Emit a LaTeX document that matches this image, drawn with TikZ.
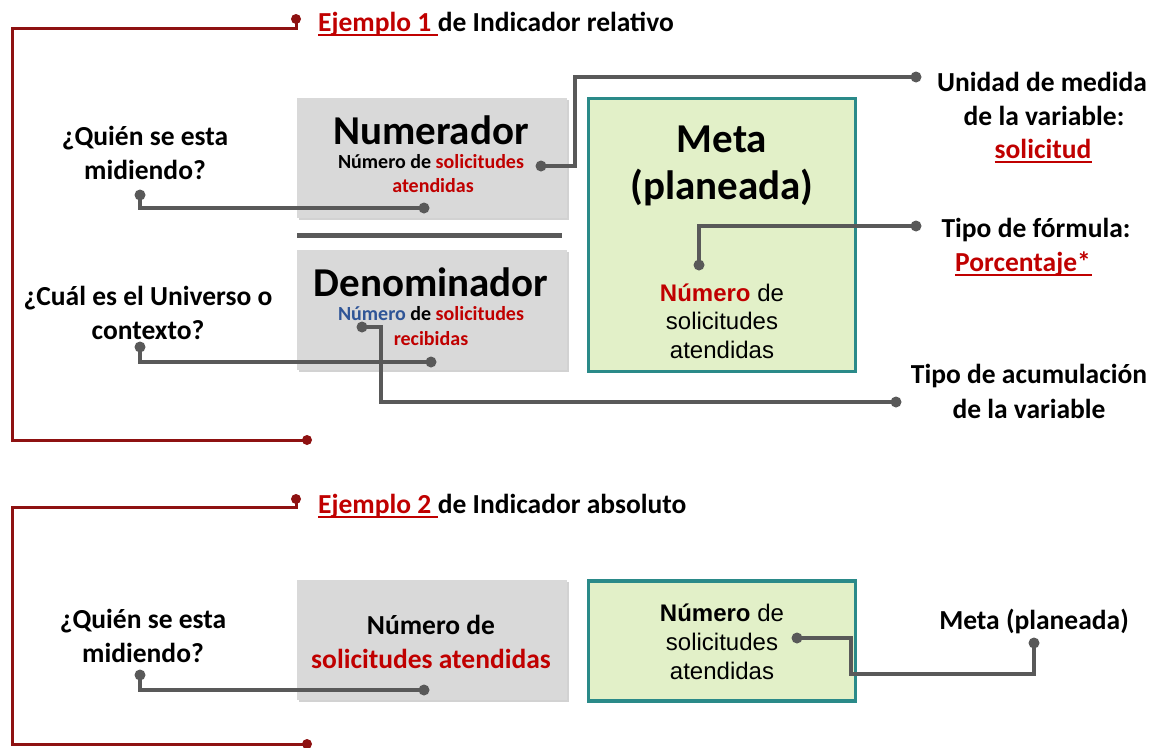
\documentclass[tikz,border=0pt]{standalone}
\usepackage{fontspec}
\setmainfont{Carlito}
\newfontfamily\arialf{Liberation Sans}
\usetikzlibrary{shadows}
\definecolor{ered}{HTML}{C00000}
\definecolor{bred}{HTML}{8E1111}
\definecolor{lgray}{HTML}{595959}
\definecolor{boxgray}{HTML}{D9D9D9}
\definecolor{boxgreen}{HTML}{E2F0C8}
\definecolor{tealb}{HTML}{2A8A89}
\definecolor{nblue}{HTML}{2F5597}
\newcommand\FBig{\fontsize{41}{49}\selectfont\bfseries}
\newcommand\FLab{\fontsize{27.5}{33.5}\selectfont\bfseries}
\newcommand\FSmall{\fontsize{20}{24}\selectfont\bfseries}
\newcommand\FAr{\arialf\fontsize{24}{29}\selectfont}
\begin{document}
\begin{tikzpicture}[x=1pt,y=-1pt,
  conn/.style={draw=lgray, line width=3.2pt},
  brk/.style={draw=bred, line width=3pt},
  grayb/.style={fill=boxgray, draw=none, minimum width=270pt, minimum height=120pt, inner sep=0pt,
     drop shadow={shadow xshift=1.5pt, shadow yshift=-2pt, opacity=0.35}},
  greenb/.style={fill=boxgreen, draw=tealb, line width=3.2pt, minimum width=267pt, inner sep=0pt},
  txt/.style={inner sep=0pt, align=center},
  uline/.style={draw=ered, line width=2pt},
  gdot/.style={fill=lgray},
  rdot/.style={fill=bred}
]
\useasboundingbox (0,0) rectangle (1156,747);
\fill[white] (0,0) rectangle (1156,747);

% ---------------- Example 1 ----------------
\coordinate (b1t) at (296,19);
\coordinate (b1b) at (307,440);
\draw[brk] (b1t) |- (12,28) |- (b1b);
\fill[rdot] (b1t) circle[radius=5pt];
\fill[rdot] (b1b) circle[radius=5pt];
\node[txt, anchor=base west, font=\FLab, text=ered] (t1a) at (318,31) {Ejemplo 1\ };
\node[txt, anchor=base west, font=\FLab] (t1b) at (t1a.base east) {de Indicador relativo};
\draw[uline] ([yshift=-3.5pt]t1a.base west) -- ([yshift=-3.5pt]t1a.base east);

\node[grayb] (numbox) at (432,158) {};
\node[grayb] (denbox) at (432,310) {};
\draw[lgray, line width=5pt] (297,235) -- (562,235);
\node[greenb, minimum height=273pt] (metabox) at (722,235) {};

\node[txt, font=\FBig] (numt) at (431,130) {Numerador};
\node[txt, font=\FSmall] (nums1) at (431,162) {Número de {\color{ered}solicitudes}};
\node[txt, font=\FSmall, text=ered] (nums2) at (433,186) {atendidas};

\node[txt, font=\FBig] (dent) at (431,282) {Denominador};
\node[txt, font=\FSmall] (dens1) at (431,314) {{\color{nblue}Número} de {\color{ered}solicitudes}};
\node[txt, font=\FSmall, text=ered] (dens2) at (431,339) {recibidas};

\node[txt, font=\FBig] (metat1) at (722,139) {Meta};
\node[txt, font=\FBig] (metat2) at (722,188) {(planeada)};
\node[txt, font=\FAr] (metas1) at (722,293) {{\bfseries\color{ered}Número} de};
\node[txt, font=\FAr] (metas2) at (722,321) {solicitudes};
\node[txt, font=\FAr] (metas3) at (722,350) {atendidas};

\node[txt, font=\FLab] (q1) at (145,153) {¿Quién se esta\\midiendo?};
\node[txt, font=\FLab] (u1) at (148,313) {¿Cuál es el Universo o\\contexto?};

\node[txt, font=\FLab] (um1) at (1042,82) {Unidad de medida};
\node[txt, font=\FLab] (um2) at (1044,116) {de la variable:};
\node[txt, font=\FLab, text=ered] (um3) at (1043,149) {solicitud};
\draw[uline] ([yshift=-3.5pt]um3.base west) -- ([yshift=-3.5pt]um3.base east);
\node[txt, font=\FLab] (tf1) at (1036,230) {Tipo de fórmula:};
\node[txt, font=\FLab, text=ered] (tf2) at (1023,264) {Porcentaje*};
\draw[uline] ([yshift=-3.5pt]tf2.base west) -- ([yshift=-3.5pt,xshift=1pt]tf2.base east);
\node[txt, font=\FLab] (ta1) at (1029,376) {Tipo de acumulación};
\node[txt, font=\FLab] (ta2) at (1029,409) {de la variable};

% connectors example 1
\coordinate (c1a) at (541,166); \coordinate (c1b) at (916,77);
\draw[conn] (c1a) -| (575,77) -- (c1b);
\coordinate (c2a) at (140,195); \coordinate (c2b) at (424,208);
\draw[conn] (c2a) |- (c2b);
\coordinate (c3a) at (140,347); \coordinate (c3b) at (431,362);
\draw[conn] (c3a) |- (c3b);
\coordinate (c4a) at (699,265); \coordinate (c4b) at (916,226);
\draw[conn] (c4a) |- (c4b);
\coordinate (c5a) at (362,327); \coordinate (c5b) at (896,402);
\draw[conn] (c5a) -| (381,402) -- (c5b);
\foreach \c in {c1a,c1b,c2a,c2b,c3a,c3b,c4a,c4b,c5a,c5b}
  \fill[gdot] (\c) circle[radius=5.5pt];

% ---------------- Example 2 ----------------
\coordinate (b2t) at (296,499);
\coordinate (b2b) at (307,744);
\draw[brk] (b2t) |- (12,507) |- (b2b);
\fill[rdot] (b2t) circle[radius=5pt];
\fill[rdot] (b2b) circle[radius=5pt];
\node[txt, anchor=base west, font=\FLab, text=ered] (t2a) at (318,513) {Ejemplo 2\ };
\node[txt, anchor=base west, font=\FLab] (t2b) at (t2a.base east) {de Indicador absoluto};
\draw[uline] ([yshift=-3.5pt]t2a.base west) -- ([yshift=-3.5pt]t2a.base east);

\node[grayb] (numbox2) at (432,640) {};
\node[greenb, minimum height=120pt] (metabox2) at (722,641) {};

\node[txt, font=\FLab] (n2a) at (431,625) {Número de};
\node[txt, font=\FLab, text=ered] (n2b) at (431,659) {solicitudes atendidas};

\node[txt, font=\FAr] (m2a) at (722,613) {{\bfseries Número} de};
\node[txt, font=\FAr] (m2b) at (722,642) {solicitudes};
\node[txt, font=\FAr] (m2c) at (722,671) {atendidas};

\node[txt, font=\FLab] (q2) at (143,636) {¿Quién se esta\\midiendo?};
\node[txt, font=\FLab] (mp2) at (1034,621) {Meta (planeada)};

\coordinate (e1a) at (140,675); \coordinate (e1b) at (424,690);
\draw[conn] (e1a) |- (e1b);
\coordinate (e2a) at (797,638); \coordinate (e2b) at (1034,643);
\draw[conn] (e2a) -| (851,674) -| (e2b);
\foreach \c in {e1a,e1b,e2a,e2b}
  \fill[gdot] (\c) circle[radius=5.5pt];
\end{tikzpicture}
\end{document}
